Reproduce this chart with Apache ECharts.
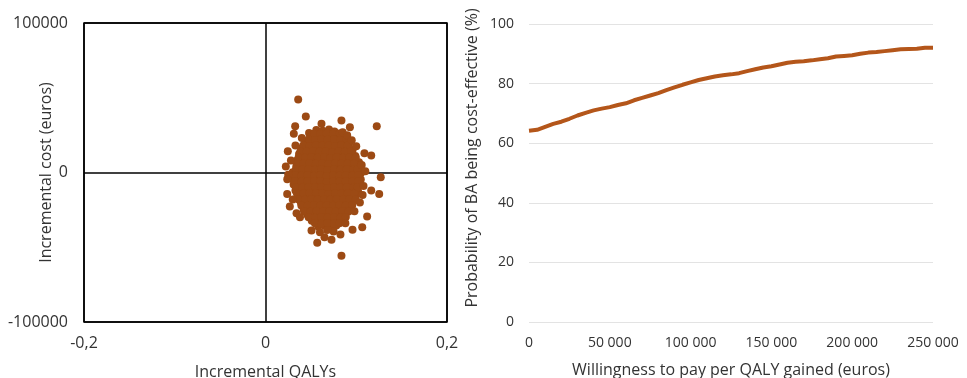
<!DOCTYPE html>
<html><head><meta charset="utf-8">
<script src="https://cdn.jsdelivr.net/npm/echarts@6/dist/echarts.min.js"></script>
<style>html,body{margin:0;padding:0;background:#fff}#c{width:967px;height:378px}</style>
</head><body><div id="c"></div>
<script>
// Cost-effectiveness plane: [incremental QALYs, incremental cost (euros)]
const planePoints = [
[0.056,28500],[0.063,28000],[0.070,28800],[0.076,27500],[0.048,26500],
[0.050,24200],[0.057,23500],[0.064,24600],[0.071,23800],[0.078,24400],[0.085,23000],
[0.044,20300],[0.051,19600],[0.058,20500],[0.065,19800],[0.072,20200],[0.079,19500],[0.086,20100],[0.092,18500],
[0.040,16200],[0.047,15700],[0.054,16400],[0.061,15800],[0.068,16300],[0.075,15600],[0.082,16100],[0.089,15900],[0.096,15200],
[0.037,12300],[0.044,11700],[0.051,12200],[0.058,11800],[0.065,12400],[0.072,11600],[0.079,12100],[0.086,11900],[0.093,12200],[0.099,11000],
[0.035,8200],[0.042,7800],[0.049,8300],[0.056,7700],[0.063,8100],[0.070,7900],[0.077,8400],[0.084,7600],[0.091,8000],[0.098,7700],[0.103,6800],
[0.034,4100],[0.041,3800],[0.048,4300],[0.055,3700],[0.062,4200],[0.069,3900],[0.076,4100],[0.083,3800],[0.090,4300],[0.097,3900],[0.103,3500],
[0.030,200],[0.037,-300],[0.044,400],[0.051,-200],[0.058,300],[0.065,-100],[0.072,200],[0.079,-300],[0.086,100],[0.093,-200],[0.100,300],[0.105,-500],
[0.029,-4200],[0.036,-3800],[0.043,-4300],[0.050,-3700],[0.057,-4100],[0.064,-3900],[0.071,-4200],[0.078,-3800],[0.085,-4100],[0.092,-3900],[0.099,-4200],[0.105,-4600],
[0.031,-8100],[0.038,-7800],[0.045,-8300],[0.052,-7900],[0.059,-8200],[0.066,-7700],[0.073,-8100],[0.080,-7900],[0.087,-8300],[0.094,-7800],[0.101,-8100],
[0.033,-12100],[0.040,-11800],[0.047,-12300],[0.054,-11700],[0.061,-12200],[0.068,-11900],[0.075,-12100],[0.082,-11800],[0.089,-12300],[0.096,-11900],[0.102,-12500],
[0.036,-16100],[0.043,-15800],[0.050,-16300],[0.057,-15700],[0.064,-16200],[0.071,-15900],[0.078,-16100],[0.085,-15800],[0.092,-16200],[0.099,-15700],
[0.039,-20100],[0.046,-19700],[0.053,-20300],[0.060,-19800],[0.067,-20200],[0.074,-19900],[0.081,-20100],[0.088,-19700],[0.095,-20300],
[0.042,-24200],[0.049,-23800],[0.056,-24300],[0.063,-23700],[0.070,-24100],[0.077,-23900],[0.084,-24200],[0.091,-23800],
[0.046,-28100],[0.053,-27700],[0.060,-28300],[0.067,-27900],[0.074,-28200],[0.081,-27800],[0.088,-28100],
[0.051,-32200],[0.058,-31700],[0.065,-32300],[0.072,-31800],[0.079,-32100],[0.085,-31600],
[0.058,-36100],[0.065,-35700],[0.072,-36300],[0.078,-35500],
[0.0535,26000],[0.0605,25800],[0.0675,26300],[0.0745,25900],[0.0815,26100],
[0.0475,22000],[0.0545,21800],[0.0615,22300],[0.0685,21900],[0.0755,22100],[0.0825,21700],[0.0895,22200],
[0.0415,18000],[0.0485,17800],[0.0555,18300],[0.0625,17900],[0.0695,18100],[0.0765,17700],[0.0835,18200],[0.0905,17900],
[0.0385,14000],[0.0455,13800],[0.0525,14300],[0.0595,13900],[0.0665,14100],[0.0735,13700],[0.0805,14200],[0.0875,13900],[0.0945,14100],
[0.0365,10000],[0.0435,9800],[0.0505,10300],[0.0575,9900],[0.0645,10100],[0.0715,9700],[0.0785,10200],[0.0855,9900],[0.0925,10100],[0.0995,9800],
[0.0345,6000],[0.0415,5800],[0.0485,6300],[0.0555,5900],[0.0625,6100],[0.0695,5700],[0.0765,6200],[0.0835,5900],[0.0905,6100],[0.0975,5800],
[0.0335,2000],[0.0405,1800],[0.0475,2300],[0.0545,1900],[0.0615,2100],[0.0685,1700],[0.0755,2200],[0.0825,1900],[0.0895,2100],[0.0965,1800],[0.1015,2200],
[0.0325,-2000],[0.0395,-2200],[0.0465,-1700],[0.0535,-2100],[0.0605,-1900],[0.0675,-2300],[0.0745,-1800],[0.0815,-2100],[0.0885,-1900],[0.0955,-2200],[0.1025,-1800],
[0.0325,-6000],[0.0395,-6200],[0.0465,-5700],[0.0535,-6100],[0.0605,-5900],[0.0675,-6300],[0.0745,-5800],[0.0815,-6100],[0.0885,-5900],[0.0955,-6200],[0.1025,-5800],
[0.0335,-10000],[0.0405,-10200],[0.0475,-9700],[0.0545,-10100],[0.0615,-9900],[0.0685,-10300],[0.0755,-9800],[0.0825,-10100],[0.0895,-9900],[0.0965,-10200],[0.1015,-9800],
[0.0346,-14000],[0.0416,-14200],[0.0486,-13700],[0.0556,-14100],[0.0626,-13900],[0.0696,-14300],[0.0766,-13800],[0.0836,-14100],[0.0906,-13900],[0.0976,-14200],
[0.0365,-18000],[0.0435,-18200],[0.0505,-17700],[0.0575,-18100],[0.0645,-17900],[0.0715,-18300],[0.0785,-17800],[0.0855,-18100],[0.0925,-17900],[0.0995,-18200],
[0.0395,-22000],[0.0465,-22200],[0.0535,-21700],[0.0605,-22100],[0.0675,-21900],[0.0745,-22300],[0.0815,-21800],[0.0885,-22100],[0.0955,-21900],
[0.0425,-26000],[0.0495,-26200],[0.0565,-25700],[0.0635,-26100],[0.0705,-25900],[0.0775,-26300],[0.0845,-25800],[0.0915,-26100],
[0.0475,-30000],[0.0545,-30200],[0.0615,-29700],[0.0685,-30100],[0.0755,-29900],[0.0825,-30300],[0.0885,-29800],
[0.0545,-34000],[0.0615,-34200],[0.0685,-33700],[0.0755,-34100],[0.0815,-33900],
[0.085,27000],[0.090,25000],[0.106,5000],[0.107,-15000],[0.104,-20000],[0.060,-40000],[0.075,-39500],[0.068,-38500],
[0.088,-34000],[0.030,-18000],[0.028,8000],[0.033,18000],[0.040,23000],[0.095,21500],[0.098,-26000],[0.038,-30000],
[0.036,48800],[0.0444,37500],[0.0837,34800],[0.1226,31000],[0.0327,31000],[0.0312,25900],[0.0617,32600],[0.093,30300],
[0.0246,14200],[0.109,12900],[0.1165,11400],[0.0224,4000],[0.127,-3100],[0.1253,-14300],[0.1165,-12000],[0.0239,-14300],
[0.0268,-22700],[0.0342,-27200],[0.112,-29400],[0.1066,-36600],[0.0507,-38800],[0.0959,-38300],[0.057,-47000],[0.0727,-45000],
[0.065,-43300],[0.0837,-55700],[0.0826,-41500],[0.025,-1500],[0.024,-4500],[0.110,900],[0.108,-9000],[0.100,17500]
];
// Acceptability curve: willingness to pay (euros) and probability cost-effective (%)
const wtp = [0,5000,10000,15000,20000,25000,30000,35000,40000,45000,50000,55000,60000,65000,70000,75000,80000,85000,90000,95000,
100000,105000,110000,115000,120000,125000,130000,135000,140000,145000,150000,155000,160000,165000,170000,175000,180000,185000,190000,195000,
200000,205000,210000,215000,220000,225000,230000,235000,240000,245000,250000];
const probCE = [64.2,64.5,65.5,66.5,67.2,68.2,69.3,70.2,71,71.6,72.1,72.8,73.4,74.4,75.2,76,76.8,77.8,78.7,79.6,
80.4,81.2,81.8,82.4,82.8,83.1,83.5,84.2,84.8,85.4,85.8,86.4,87,87.3,87.5,87.8,88.2,88.5,89.1,89.3,
89.5,90,90.4,90.6,90.9,91.2,91.5,91.6,91.7,92,92];

const FONT = 'Open Sans';
const TXT = '#333333';
const chart = echarts.init(document.getElementById('c'), null, {renderer:'canvas'});
chart.setOption({
  animation:false,
  textStyle:{fontFamily:FONT},
  grid:[
    {left:84,top:23,width:363,height:299,show:true,borderColor:'#000',borderWidth:1.5,backgroundColor:'transparent',outerBoundsMode:'none',containLabel:false},
    {left:529,top:24,width:404,height:298,outerBoundsMode:'none',containLabel:false}
  ],
  xAxis:[
    {gridIndex:0,type:'value',min:-0.2,max:0.2,interval:0.2,
     name:'Incremental QALYs',nameLocation:'middle',nameGap:42,nameMoveOverlap:false,
     nameTextStyle:{color:TXT,fontSize:16,fontFamily:FONT},
     axisLine:{show:false},axisTick:{show:false},
     axisLabel:{color:TXT,fontSize:16,margin:13,fontFamily:FONT,formatter:v=>String(Math.round(v*10)/10).replace('.',',')},
     splitLine:{show:true,lineStyle:{color:'#000',width:1.5}}},
    {gridIndex:1,type:'value',min:0,max:250000,interval:50000,
     name:'Willingness to pay per QALY gained (euros)',nameLocation:'middle',nameGap:40,nameMoveOverlap:false,
     nameTextStyle:{color:TXT,fontSize:16,fontFamily:FONT},
     axisLine:{show:false},axisTick:{show:false},
     axisLabel:{color:TXT,fontSize:14,margin:14,fontFamily:FONT,formatter:v=>String(v).replace(/\B(?=(\d{3})+(?!\d))/g,' ')},
     splitLine:{show:false}}
  ],
  yAxis:[
    {gridIndex:0,type:'value',min:-100000,max:100000,interval:100000,
     name:'Incremental cost (euros)',nameLocation:'middle',nameGap:30,nameMoveOverlap:false,
     nameTextStyle:{color:TXT,fontSize:16,fontFamily:FONT},
     axisLine:{show:false},axisTick:{show:false},
     axisLabel:{color:TXT,fontSize:16,margin:16,fontFamily:FONT,formatter:v=>String(v)},
     splitLine:{show:true,lineStyle:{color:'#000',width:1.5}}},
    {gridIndex:1,type:'value',min:0,max:100,interval:20,
     name:'Probability of BA being cost-effective (%)',nameLocation:'middle',nameGap:49,nameMoveOverlap:false,
     nameTextStyle:{color:TXT,fontSize:16,fontFamily:FONT,padding:[0,0,0,30]},
     axisLine:{show:false},axisTick:{show:false},
     axisLabel:{color:TXT,fontSize:14,margin:15,fontFamily:FONT},
     splitLine:{show:true,lineStyle:{color:'#e3e3e3',width:1}}}
  ],
  series:[
    {type:'scatter',xAxisIndex:0,yAxisIndex:0,symbolSize:8,
     itemStyle:{color:'#9c4a14',opacity:1},data:planePoints},
    {type:'line',xAxisIndex:1,yAxisIndex:1,showSymbol:false,
     lineStyle:{color:'#b4561a',width:4},
     data:wtp.map((w,i)=>[w,probCE[i]])}
  ]
});
</script></body></html>
